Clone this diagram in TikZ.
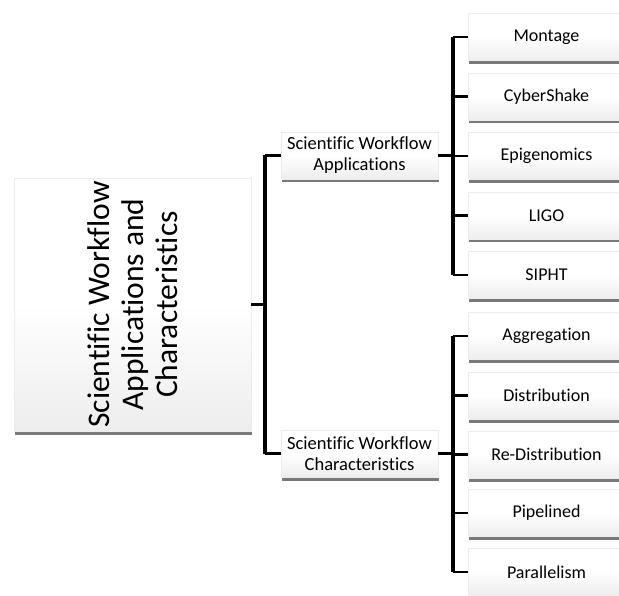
\documentclass[tikz,border=0pt]{standalone}
\usepackage{fontspec}
\setmainfont[Ligatures=NoCommon]{Carlito}
\usetikzlibrary{shadows}
% light grey at the bottom edge, fading to white by half height
\pgfdeclareverticalshading{boxfade}{100bp}{color(0bp)=(black!15); color(25bp)=(black!7); color(50bp)=(white); color(100bp)=(white)}
\begin{document}
\begin{tikzpicture}[x=1pt,y=-1pt,
  box/.style={draw=gray!15, line width=0.3pt, shade, shading=boxfade,
    drop shadow={shadow xshift=1pt, shadow yshift=-3.5pt, opacity=0.7, fill=black!75},
    inner sep=0pt, align=center},
  rootbox/.style={box, minimum width=237pt, minimum height=253pt},
  midbox/.style={box, minimum width=157pt, minimum height=47pt,
    font=\fontsize{18.5}{21}\selectfont},
  leafbox/.style={box, minimum width=157pt, minimum height=47pt,
    font=\fontsize{18}{21}\selectfont},
  conn/.style={draw=black, line width=2.2pt},
  bus/.style={draw=black, line width=3.4pt}
]
\useasboundingbox (0,0) rectangle (619,596);
\begin{scope}
\clip (0,0) rectangle (619,596);

% root
\node[rootbox] (m) at (132.5,304.5) {};
\node[rotate=90, align=center, font=\fontsize{31.5}{34}\selectfont] (mt) at (m.center)
  {Scientific Workflow\\Applications and\\Characteristics};

% second level
\node[midbox] (a) at (359.5,155.5) {Scientific Workflow\\Applications};
\node[midbox] (c) at (359.5,453.5) {Scientific Workflow\\Characteristics};

% leaves
\node[leafbox] (r1) at (546.5,37) {Montage};
\node[leafbox] (r2) at (546.5,96.5) {CyberShake};
\node[leafbox] (r3) at (546.5,156) {Epigenomics};
\node[leafbox] (r4) at (546.5,215.5) {LIGO};
\node[leafbox] (r5) at (546.5,275) {SIPHT};
\node[leafbox] (s1) at (546.5,336) {Aggregation};
\node[leafbox] (s2) at (546.5,395.5) {Distribution};
\node[leafbox] (s3) at (546.5,454.5) {Re-Distribution};
\node[leafbox] (s4) at (546.5,513) {Pipelined};
\node[leafbox] (s5) at (546.5,572) {Parallelism};
\end{scope}

% junctions
\coordinate (j1) at (265,304.5);
\coordinate (j2) at (453,155.5);
\coordinate (j3) at (453,453.5);

% root to second level
\draw[bus] (a.west -| j1) -- (c.west -| j1);
\draw[conn] (m.east) -- (j1);
\draw[conn] (a.west) -- (a.west -| j1);
\draw[conn] (c.west) -- (c.west -| j1);

% applications
\draw[bus] (r1.west -| j2) -- (r5.west -| j2);
\draw[conn] (a.east) -- (j2);
\foreach \n in {r1,r2,r3,r4,r5} \draw[conn] (\n.west) -- (\n.west -| j2);

% characteristics
\draw[bus] (s1.west -| j3) -- (s5.west -| j3);
\draw[conn] (c.east) -- (j3);
\foreach \n in {s1,s2,s3,s4,s5} \draw[conn] (\n.west) -- (\n.west -| j3);
\end{tikzpicture}
\end{document}
